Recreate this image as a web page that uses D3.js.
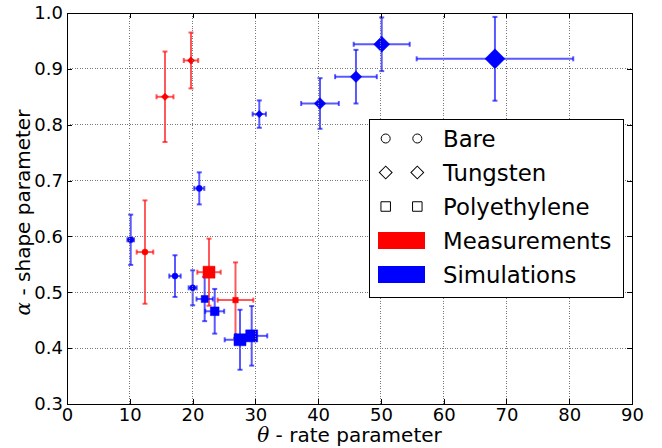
<!DOCTYPE html>
<html>
<head>
<meta charset="utf-8">
<script src="https://cdn.jsdelivr.net/npm/d3@7"></script>
<style>
  body { margin: 0; background: #fff; }
  svg text { font-family: "DejaVu Sans", sans-serif; fill: #000; }
</style>
</head>
<body>
<div id="chart"></div>
<script>
// values
var source = ["Measurements", "Measurements", "Measurements", "Measurements", "Measurements",
              "Simulations", "Simulations", "Simulations", "Simulations", "Simulations",
              "Simulations", "Simulations", "Simulations", "Simulations", "Simulations",
              "Simulations", "Simulations", "Simulations"];
var target = ["Tungsten", "Tungsten", "Bare", "Polyethylene", "Polyethylene",
              "Bare", "Bare", "Bare", "Bare", "Tungsten",
              "Polyethylene", "Polyethylene", "Polyethylene", "Polyethylene", "Tungsten",
              "Tungsten", "Tungsten", "Tungsten"];
var theta    = [19.75, 15.61, 12.42, 22.62, 26.84, 10.15, 21.07, 17.2, 20.02, 30.63, 21.93, 23.53, 27.56, 29.42, 40.3, 46.03, 50.13, 68.17];
var thetaErr = [1.15, 1.35, 1.32, 1.86, 2.84, 0.53, 0.8, 0.91, 0.64, 1.06, 1.3, 1.51, 2.44, 2.48, 3.0, 3.32, 4.46, 12.47];
var alpha    = [0.915, 0.850, 0.572, 0.536, 0.486, 0.594, 0.686, 0.529, 0.508, 0.819, 0.488, 0.466, 0.415, 0.422, 0.838, 0.886, 0.944, 0.918];
var alphaErr = [0.05, 0.081, 0.0925, 0.06, 0.0675, 0.045, 0.0287, 0.0373, 0.0313, 0.0245, 0.0397, 0.04, 0.0537, 0.0533, 0.0453, 0.048, 0.048, 0.075];
var sizeClass = [1, 1, 1, 4, 1, 1, 1, 1, 1, 1, 2, 3, 4, 4, 3, 3, 4, 5];

var xTicks = [0, 10, 20, 30, 40, 50, 60, 70, 80, 90];
var yTicks = [0.3, 0.4, 0.5, 0.6, 0.7, 0.8, 0.9, 1.0];
var legendShapes = ["Bare", "Tungsten", "Polyethylene"];
var legendSources = ["Measurements", "Simulations"];

var W = 662, H = 448;
var margin = {top: 13, right: 30, bottom: 44, left: 67};
var w = W - margin.left - margin.right;
var h = H - margin.top - margin.bottom;

var svg = d3.select("#chart").append("svg")
    .attr("width", W)
    .attr("height", H);
var g = svg.append("g")
    .attr("transform", "translate(" + margin.left + "," + margin.top + ")");

var x = d3.scaleLinear().domain([0, 90]).range([0, w]);
var y = d3.scaleLinear().domain([0.3, 1.0]).range([h, 0]);

var color = d3.scaleOrdinal().domain(legendSources).range(["#ff0000", "#0000ff"]);
var side = d3.scaleOrdinal().domain([1, 2, 3, 4, 5]).range([5.5, 7, 8.7, 12, 15]);

function symbolFor(shape, s) {
    if (shape == "Bare") {
        var r = s * 0.55;
        return d3.symbol().type(d3.symbolCircle).size(Math.PI * r * r)();
    }
    if (shape == "Tungsten") {
        var dg = s * 1.33;
        return d3.symbol().type(d3.symbolSquare).size(dg * dg / 2)();
    }
    return d3.symbol().type(d3.symbolSquare).size(s * s)();
}
function rot(shape) { return shape == "Tungsten" ? " rotate(45)" : ""; }

var pts = theta.map(function(t, i) {
    return {t: t, te: thetaErr[i], a: alpha[i], ae: alphaErr[i],
            src: source[i], shape: target[i], size: sizeClass[i]};
});

// error bars
var cap = 2.5;
var eb = g.append("g").attr("class", "errorbars");
pts.forEach(function(d) {
    var e = eb.append("g")
        .attr("stroke", color(d.src))
        .attr("stroke-opacity", 0.65)
        .attr("stroke-width", 2);
    e.append("line")
        .attr("x1", x(d.t)).attr("x2", x(d.t))
        .attr("y1", y(d.a - d.ae)).attr("y2", y(d.a + d.ae));
    e.append("line")
        .attr("x1", x(d.t - d.te)).attr("x2", x(d.t + d.te))
        .attr("y1", y(d.a)).attr("y2", y(d.a));
    [d.a - d.ae, d.a + d.ae].forEach(function(v) {
        e.append("line")
            .attr("x1", x(d.t) - cap).attr("x2", x(d.t) + cap)
            .attr("y1", y(v)).attr("y2", y(v));
    });
    [d.t - d.te, d.t + d.te].forEach(function(v) {
        e.append("line")
            .attr("x1", x(v)).attr("x2", x(v))
            .attr("y1", y(d.a) - cap).attr("y2", y(d.a) + cap);
    });
});

// markers
g.append("g").selectAll("path")
    .data(pts)
    .enter().append("path")
    .attr("d", function(d) { return symbolFor(d.shape, side(d.size)); })
    .attr("transform", function(d) { return "translate(" + x(d.t) + "," + y(d.a) + ")" + rot(d.shape); })
    .style("fill", function(d) { return color(d.src); })
    .style("stroke", function(d) { return color(d.src); })
    .style("stroke-width", 0.5);

// grid (drawn over data, like classic matplotlib)
var grid = g.append("g").attr("class", "grid");
grid.selectAll(".gx").data(xTicks.slice(1, -1)).enter().append("line")
    .attr("x1", function(d) { return x(d); }).attr("x2", function(d) { return x(d); })
    .attr("y1", 0).attr("y2", h);
grid.selectAll(".gy").data(yTicks.slice(1, -1)).enter().append("line")
    .attr("x1", 0).attr("x2", w)
    .attr("y1", function(d) { return y(d); }).attr("y2", function(d) { return y(d); });
grid.selectAll("line")
    .attr("stroke", "#777").attr("stroke-width", 1).attr("stroke-dasharray", "1,1.5")
    .attr("shape-rendering", "crispEdges");

// axes with inward ticks on all sides
function styleAxis(sel) {
    sel.select(".domain").remove();
    sel.selectAll(".tick line").attr("stroke", "#000").attr("shape-rendering", "crispEdges");
    sel.selectAll("text").style("font-family", "DejaVu Sans").style("font-size", "18px");
}
g.append("g").attr("transform", "translate(0," + h + ")")
    .call(d3.axisBottom(x).tickValues(xTicks).tickSizeInner(-5).tickSizeOuter(0).tickPadding(4))
    .call(styleAxis);
g.append("g")
    .call(d3.axisTop(x).tickValues(xTicks).tickSizeInner(-5).tickSizeOuter(0).tickFormat(""))
    .call(styleAxis);
g.append("g")
    .call(d3.axisLeft(y).tickValues(yTicks).tickSizeInner(-5).tickSizeOuter(0).tickPadding(4).tickFormat(d3.format(".1f")))
    .call(styleAxis);
g.append("g").attr("transform", "translate(" + w + ",0)")
    .call(d3.axisRight(y).tickValues(yTicks).tickSizeInner(-5).tickSizeOuter(0).tickFormat(""))
    .call(styleAxis);

g.append("rect")
    .attr("x", 0).attr("y", 0).attr("width", w).attr("height", h)
    .attr("fill", "none").attr("stroke", "#000").attr("stroke-width", 1)
    .attr("shape-rendering", "crispEdges");

// axis labels
var xl = svg.append("text")
    .attr("x", margin.left + w / 2).attr("y", 442)
    .attr("text-anchor", "middle").style("font-size", "20px");
xl.append("tspan").style("font-family", "DejaVu Serif").style("font-style", "italic").text("θ");
xl.append("tspan").text(" - rate parameter");

var yl = svg.append("text")
    .attr("transform", "translate(30," + (margin.top + h / 2 + 4) + ") rotate(-90)")
    .attr("text-anchor", "middle").style("font-size", "20px");
yl.append("tspan").style("font-family", "DejaVu Serif").style("font-style", "italic").text("α");
yl.append("tspan").text(" - shape parameter");

// legend
var lg = svg.append("g").attr("transform", "translate(369,119)");
lg.append("rect")
    .attr("x", 0).attr("y", 0).attr("width", 254).attr("height", 178)
    .attr("fill", "#fff").attr("stroke", "#000").attr("stroke-width", 1)
    .attr("shape-rendering", "crispEdges");
var rowY = function(i) { return 19.5 + i * 34; };
var legendSizes = {"Bare": 9, "Tungsten": 9, "Polyethylene": 9.5};
legendShapes.forEach(function(s, i) {
    [16.7, 48.3].forEach(function(mx) {
        var sz = legendSizes[s];
        var path;
        if (s == "Bare") path = d3.symbol().type(d3.symbolCircle).size(Math.PI * sz * sz / 4)();
        else path = d3.symbol().type(d3.symbolSquare).size(sz * sz)();
        lg.append("path")
            .attr("d", path)
            .attr("transform", "translate(" + mx + "," + rowY(i) + ")" + rot(s))
            .attr("fill", "#fff").attr("stroke", "#000").attr("stroke-width", 1);
    });
    lg.append("text")
        .attr("x", 74).attr("y", rowY(i) + 8.2)
        .style("font-size", "22.8px").text(s);
});
legendSources.forEach(function(s, i) {
    var k = i + legendShapes.length;
    lg.append("rect")
        .attr("x", 9).attr("y", rowY(k) - 8.5).attr("width", 47).attr("height", 17)
        .attr("fill", color(s));
    lg.append("text")
        .attr("x", 74).attr("y", rowY(k) + 8.2)
        .style("font-size", "22.8px").text(s);
});
</script>
</body>
</html>
